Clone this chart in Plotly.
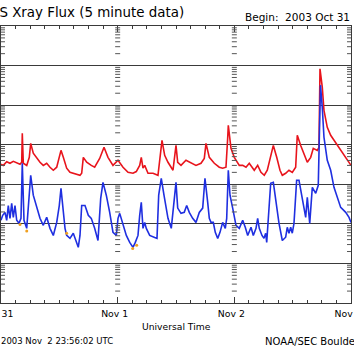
import plotly.graph_objects as go

# ---- data (hours since 2003 Oct 31 00:00 UT, flux in W/m^2) ----
red_hours = [0.0,0.47,1.17,1.85,2.53,3.23,3.91,4.26,4.38,4.59,
             5.29,5.82,6.11,6.64,7.34,8.02,8.70,9.40,10.08,10.76,
             11.46,11.99,12.34,12.82,13.51,14.19,14.87,15.57,16.25,16.60,
             16.93,17.63,17.90,18.57,19.27,20.30,21.19,22.01,23.04,24.07,
             25.10,26.13,27.15,27.83,28.53,28.86,29.21,29.56,30.24,31.27,
             32.29,32.85,33.12,33.67,34.35,35.38,35.85,36.00,36.35,37.03,
             38.05,39.08,40.11,41.14,41.82,42.17,42.85,43.88,44.90,45.60,
             46.28,46.63,46.76,47.31,47.99,49.02,49.72,50.40,51.07,52.10,
             52.80,53.48,54.16,54.78,55.48,56.02,56.72,57.39,57.87,58.56,
             59.24,59.92,60.62,60.95,61.65,62.33,63.01,63.71,64.24,65.06,
             65.41,65.62,66.09,66.44,67.12,67.82,68.50,69.18,70.21,71.23,72.0]
red_flux = [3.2e-6,3.0e-6,3.7e-6,3.4e-6,3.8e-6,3.4e-6,3.2e-6,3.6e-6,1.95e-5,3.4e-6,
            3.0e-6,4.8e-6,1.08e-5,6.1e-6,4.5e-6,3.6e-6,3.0e-6,3.4e-6,2.7e-6,2.26e-6,
            2.7e-6,4.8e-6,7.2e-6,4.8e-6,2.55e-6,2.0e-6,1.9e-6,1.79e-6,1.69e-6,1.9e-6,
            4.8e-6,3.6e-6,3.4e-6,3.0e-6,2.7e-6,4.5e-6,8.6e-6,4.8e-6,3.0e-6,4.05e-6,
            2.7e-6,2.0e-6,1.9e-6,2.1e-6,3.0e-6,4.8e-6,2.55e-6,3.0e-6,1.9e-6,1.9e-6,
            1.69e-6,5.4e-6,1.29e-5,5.4e-6,3.6e-6,2.26e-6,8.6e-6,9.6e-6,3.6e-6,3.0e-6,
            4.05e-6,3.4e-6,3.0e-6,3.4e-6,4.5e-6,1.08e-5,4.8e-6,3.4e-6,2.7e-6,2.55e-6,
            2.7e-6,1.45e-5,3.1e-5,8.1e-6,4.8e-6,3.0e-6,3.0e-6,2.7e-6,3.4e-6,2.26e-6,
            3.0e-6,2.0e-6,1.69e-6,2.26e-6,4.8e-6,9.6e-6,4.8e-6,2.26e-6,1.69e-6,1.9e-6,
            2.26e-6,2.0e-6,2.7e-6,1.73e-5,9.6e-6,6.1e-6,3.6e-6,4.8e-6,8.1e-6,7.2e-6,
            8.6e-6,8.3e-4,2.84e-4,7.4e-5,2.75e-5,1.73e-5,1.29e-5,9.6e-6,6.1e-6,4.05e-6,3.0e-6]

blue_hours = [0.0,0.35,0.82,1.17,1.50,1.85,2.20,2.53,2.88,3.23,
              3.70,4.11,4.38,4.73,5.29,5.70,6.11,6.64,7.34,8.02,
              8.70,9.40,10.08,10.76,11.46,11.99,12.34,12.82,13.17,13.51,
              14.19,14.87,15.57,15.90,16.25,16.60,17.28,17.96,18.57,19.27,
              19.95,20.51,20.98,21.66,22.36,23.04,23.72,24.07,24.42,25.10,
              25.78,26.48,27.15,27.63,28.18,28.53,28.86,29.21,29.56,29.89,
              30.59,31.62,32.09,32.44,32.97,33.53,34.35,35.03,35.85,36.00,
              36.35,37.03,37.70,38.20,38.73,39.43,40.11,40.79,41.49,41.96,
              42.52,42.85,43.20,43.67,44.08,44.58,45.05,45.60,46.14,46.43,
              46.76,47.11,47.66,48.34,49.02,49.72,50.25,50.75,51.43,51.90,
              52.46,52.80,53.13,53.69,54.10,54.45,54.66,55.13,55.48,56.02,
              56.51,57.19,57.87,58.56,58.89,59.24,59.59,59.92,60.27,60.82,
              61.30,61.77,62.33,62.68,63.01,63.51,64.04,64.74,65.27,65.72,
              66.09,66.44,67.12,67.82,68.50,69.18,69.88,70.91,71.59,72.0]
blue_flux = [1.23e-7,1.64e-7,1.95e-7,1.23e-7,2.9e-7,1.38e-7,3.3e-7,1.46e-7,2.9e-7,1.23e-7,
             1.03e-7,1.38e-7,3.4e-6,1.23e-7,7.7e-8,3.5e-7,1.69e-6,5.3e-7,2.5e-7,1.38e-7,
             9.2e-8,1.46e-7,7.7e-8,5.1e-8,1.09e-7,2.9e-7,7.9e-7,1.95e-7,7.7e-8,5.1e-8,
             4.3e-8,5.8e-8,3.4e-8,2.55e-8,5.1e-8,2.9e-7,2.9e-7,1.64e-7,1.38e-7,7.7e-8,
             3.8e-8,4.4e-7,1.12e-6,5.3e-7,1.95e-7,6.1e-8,5.1e-8,1.38e-7,1.84e-7,9.2e-8,
             5.1e-8,3.4e-8,2.55e-8,3.4e-8,5.1e-8,1.64e-7,3.5e-7,7.7e-8,1.09e-7,7.7e-8,
             5.1e-8,4.5e-8,4.3e-8,5.3e-7,1.42e-6,5.3e-7,1.38e-7,7.7e-8,1.12e-6,1.12e-6,
             2.5e-7,1.84e-7,1.95e-7,2.9e-7,1.95e-7,1.38e-7,1.09e-7,1.95e-7,2.5e-7,1.42e-6,
             3.5e-7,1.38e-7,1.09e-7,1.09e-7,6.1e-8,4.3e-8,6.1e-8,1.09e-7,7.7e-8,1.38e-7,
             2.26e-6,5.3e-7,2.5e-7,9.2e-8,7.7e-8,1.23e-7,8.2e-8,5.1e-8,8.2e-8,5.1e-8,
             7.7e-8,1.38e-7,7.7e-8,5.1e-8,4.3e-8,5.8e-8,3.4e-8,2.2e-7,1.06e-6,1.12e-6,
             3.9e-7,1.03e-7,3.8e-8,4.6e-8,8.2e-8,5.8e-8,8.2e-8,5.8e-8,1.03e-7,1.26e-6,
             1.26e-6,5.9e-7,2.6e-7,1.46e-7,4.7e-7,1.03e-7,8.4e-7,5.9e-7,9.4e-7,3.2e-4,
             8.8e-5,1.54e-5,4.05e-6,2.26e-6,8.4e-7,4.7e-7,2.6e-7,1.95e-7,1.46e-7,1.09e-7]

flag_hours = [3.91, 5.29, 13.51, 27.09, 27.91]
flag_flux = [9.7e-8, 6.6e-8, 5.8e-8, 2.4e-8, 2.9e-8]

day_hours = [0, 24, 48, 72]
day_labels = ["Oct 31", "Nov 1", "Nov 2", "Nov 3"]
decades = [-9, -8, -7, -6, -5, -4, -3]

title_text = "GOES Xray Flux (5 minute data)"
begin_text = "Begin:\u00a0\u00a02003 Oct 31"
xlabel_text = "Universal Time"
updated_text = "2003 Nov\u00a0\u00a02 23:56:02 UTC"
credit_text = "NOAA/SEC Boulder, CO USA"

FONT = "DejaVu Sans"
AXC = "#3a3a3a"

fig = go.Figure()
fig.add_trace(go.Scatter(x=red_hours, y=red_flux, mode="lines",
                         line=dict(color="#e8141c", width=1.6), showlegend=False))
fig.add_trace(go.Scatter(x=blue_hours, y=blue_flux, mode="lines",
                         line=dict(color="#1f2fe0", width=1.6), showlegend=False))
fig.add_trace(go.Scatter(x=flag_hours, y=flag_flux, mode="markers",
                         marker=dict(color="#f0a020", size=3), showlegend=False))

# log minor ticks along day boundaries
shapes = []
for h in day_hours:
    if h == day_hours[0]:
        a, b = 0, 4
    elif h == day_hours[-1]:
        a, b = -4, 0
    else:
        a, b = -2.5, 2.5
    for d in decades:
        for m in range(2, 10):
            v = m * 10 ** d
            shapes.append(dict(type="line", xref="x", yref="y", xsizemode="pixel",
                               xanchor=h, x0=a, x1=b, y0=v, y1=v,
                               line=dict(color="#555555", width=1)))
fig.update_layout(shapes=shapes)

fig.update_xaxes(range=[0, 72], showgrid=False, zeroline=False, automargin=False,
                 showline=True, linecolor=AXC, linewidth=1, mirror="allticks",
                 tickmode="array", tickvals=day_hours, ticktext=day_labels,
                 ticks="inside", ticklen=6, tickcolor=AXC, tickwidth=1,
                 minor=dict(dtick=3, ticks="inside", ticklen=3, tickcolor=AXC, tick0=0),
                 ticklabeloverflow="allow", ticklabelshift=-3, ticklabelstandoff=2,
                 tickfont=dict(family=FONT, size=9.3, color="black"))
fig.update_yaxes(type="log", range=[-9, -2], dtick=1, showgrid=True, automargin=False,
                 gridcolor=AXC, gridwidth=1, zeroline=False,
                 showline=True, linecolor=AXC, linewidth=1, mirror=True,
                 showticklabels=False, ticks="")

ann = [
    dict(text=title_text, xref="paper", yref="paper", x=(186 - 1) / 350, y=(303 - 12.5) / 277,
         xanchor="right", yanchor="middle", showarrow=False,
         font=dict(family=FONT, size=13.4, color="black")),
    dict(text=begin_text, xref="paper", yref="paper", x=(352 - 1) / 350, y=(303 - 17) / 277,
         xanchor="right", yanchor="middle", showarrow=False,
         font=dict(family=FONT, size=10.5, color="black")),
    dict(text=xlabel_text, xref="paper", yref="paper", x=(176 - 1) / 350, y=(303 - 326) / 277,
         xanchor="center", yanchor="middle", showarrow=False,
         font=dict(family=FONT, size=9.2, color="black")),
    dict(text=updated_text, xref="paper", yref="paper", x=(-1 - 1) / 350, y=(303 - 341) / 277,
         xanchor="left", yanchor="middle", showarrow=False,
         font=dict(family=FONT, size=8.5, color="black")),
    dict(text=credit_text, xref="paper", yref="paper", x=(263 - 1) / 350, y=(303 - 341) / 277,
         xanchor="left", yanchor="middle", showarrow=False,
         font=dict(family=FONT, size=10, color="black")),
]

fig.update_layout(width=354, height=348,
                  margin=dict(l=1, r=3, t=26, b=45, pad=0, autoexpand=False),
                  paper_bgcolor="white", plot_bgcolor="white",
                  annotations=ann, showlegend=False)

fig.write_html("out.html", config={"displayModeBar": False})
